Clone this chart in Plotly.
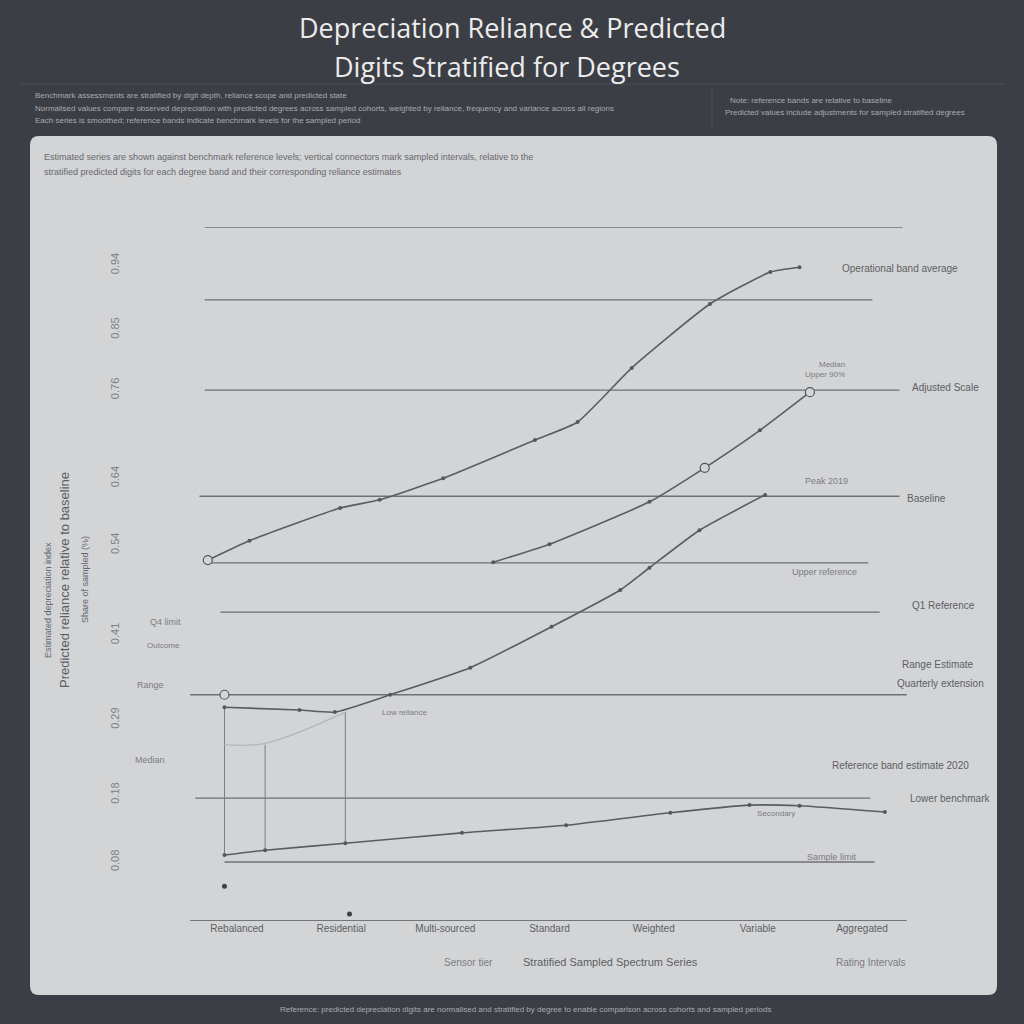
import plotly.graph_objects as go

# ---------------- data ----------------
x_tick_vals = [0, 1, 2, 3, 4, 5, 6]
x_tick_text = ["Rebalanced", "Residential", "Multi-sourced", "Standard", "Weighted", "Variable", "Aggregated"]

y_tick_vals = [94.5, 85.2, 76.5, 63.8, 54.2, 41.2, 29.0, 18.2, 8.5]
y_tick_text = ["0.94", "0.85", "0.76", "0.64", "0.54", "0.41", "0.29", "0.18", "0.08"]

# reference (benchmark) levels and their horizontal extents
ref_levels = [100.0, 89.5, 76.5, 61.2, 51.6, 44.5, 32.6, 17.7, 8.5]
ref_start = [-0.31, -0.31, -0.31, -0.36, -0.31, -0.16, -0.45, -0.40, -0.12]
ref_end = [6.39, 6.10, 6.36, 6.36, 6.06, 6.17, 6.43, 6.08, 6.12]

# series
a_x = [-0.28, 0.12, 0.99, 1.37, 1.98, 2.86, 3.27, 3.79, 4.54, 5.12, 5.40]
a_y = [52.0, 54.8, 59.5, 60.7, 63.8, 69.3, 71.9, 79.7, 88.9, 93.5, 94.2]

b_x = [2.46, 3.00, 3.96, 4.49, 5.02, 5.50]
b_y = [51.7, 54.3, 60.4, 65.3, 70.7, 76.2]

c_x = [-0.12, 0.60, 0.94, 1.47, 2.24, 3.02, 3.68, 3.96, 4.44, 5.07]
c_y = [30.8, 30.4, 30.1, 32.6, 36.5, 42.4, 47.7, 50.9, 56.3, 61.4]

d_x = [-0.12, 0.27, 1.04, 2.16, 3.16, 4.16, 4.92, 5.40, 6.22]
d_y = [9.5, 10.2, 11.2, 12.7, 13.8, 15.6, 16.7, 16.6, 15.7]

# faint secondary trace
e_x = [-0.12, 0.27, 1.04]
e_y = [25.4, 25.6, 30.1]

# vertical connectors
v_x = [-0.12, 0.27, 1.04]
v_top = [30.8, 25.4, 30.1]
v_bottom = [9.5, 10.2, 11.2]

# isolated observations
iso_x = [-0.12, 1.08]
iso_y = [5.0, 1.0]

# ---------------- figure ----------------
W = H = 1024
BG = "#3c3e45"
PANEL = "#d3d4d6"
LINE = "#5a5c63"
REF = "#6e7077"


def px(x):
    return x / W


def py(y):
    return 1 - y / H


fig = go.Figure()

for lv, s, e in zip(ref_levels, ref_start, ref_end):
    fig.add_trace(go.Scatter(x=[s, e], y=[lv, lv], mode="lines",
                             line=dict(color=REF, width=1.4), hoverinfo="skip"))

for xv, t, b in zip(v_x, v_top, v_bottom):
    fig.add_trace(go.Scatter(x=[xv, xv], y=[b, t], mode="lines",
                             line=dict(color="#7a7c83", width=1), hoverinfo="skip"))

fig.add_trace(go.Scatter(x=e_x, y=e_y, mode="lines",
                         line=dict(color="#b4b6bb", width=1.2, shape="spline"), hoverinfo="skip"))

for sx, sy in [(a_x, a_y), (b_x, b_y), (c_x, c_y), (d_x, d_y)]:
    fig.add_trace(go.Scatter(x=sx, y=sy, mode="lines+markers",
                             line=dict(color=LINE, width=1.6, shape="spline", smoothing=0.5),
                             marker=dict(size=4, color="#55575e"), hoverinfo="skip"))

fig.add_trace(go.Scatter(x=iso_x, y=iso_y, mode="markers",
                         marker=dict(size=5, color="#3f4147"), cliponaxis=False, hoverinfo="skip"))

# open circle markers at key points
fig.add_trace(go.Scatter(x=[a_x[0], c_x[0], b_x[-1], b_x[3]], y=[a_y[0], 32.6, b_y[-1], b_y[3]],
                         mode="markers", cliponaxis=False,
                         marker=dict(size=9, color=PANEL, line=dict(color="#55575e", width=1.2)),
                         hoverinfo="skip"))

fig.update_layout(
    width=W, height=H,
    margin=dict(l=0, r=0, t=0, b=0),
    paper_bgcolor=BG, plot_bgcolor="rgba(0,0,0,0)",
    showlegend=False,
    font=dict(family="Liberation Sans, Arial, sans-serif", color="#555"),
    xaxis=dict(domain=[px(190), px(907)], range=[-0.451, 6.432],
               tickvals=x_tick_vals, ticktext=x_tick_text,
               showgrid=False, zeroline=False, showline=False,
               ticks="", tickfont=dict(size=10, color="#5c5e64")),
    yaxis=dict(domain=[py(921), py(227)], range=[0, 100],
               tickvals=y_tick_vals, ticktext=y_tick_text, tickangle=-90,
               showgrid=False, zeroline=False, showline=False, ticks="",
               ticklabelstandoff=68,
               tickfont=dict(size=11, color="#7e8086")),
)

# panel with rounded corners
x0, x1, y0, y1, r = px(30), px(997), py(995), py(136), 9 / W
ry = 9 / H
path = (f"M {x0 + r},{y0} L {x1 - r},{y0} Q {x1},{y0} {x1},{y0 + ry} "
        f"L {x1},{y1 - ry} Q {x1},{y1} {x1 - r},{y1} L {x0 + r},{y1} "
        f"Q {x0},{y1} {x0},{y1 - ry} L {x0},{y0 + ry} Q {x0},{y0} {x0 + r},{y0} Z")
fig.add_shape(type="path", path=path, xref="paper", yref="paper",
              fillcolor=PANEL, line=dict(width=0), layer="below")

# header separators
fig.add_shape(type="line", xref="paper", yref="paper", x0=px(20), x1=px(1005), y0=py(84), y1=py(84),
              line=dict(color="#4b4d55", width=1), layer="below")
fig.add_shape(type="line", xref="paper", yref="paper", x0=px(712), x1=px(712), y0=py(88), y1=py(128),
              line=dict(color="#4b4d55", width=1), layer="below")

# x-axis baseline
fig.add_shape(type="line", xref="x", yref="y", x0=-0.45, x1=6.43, y0=0, y1=0,
              line=dict(color="#54565d", width=1.6))


def ann(text, x, y, size=10, color="#5c5e64", xanchor="left", angle=0, family=None):
    f = dict(size=size, color=color)
    if family:
        f["family"] = family
    fig.add_annotation(text=text, x=px(x), y=py(y), xref="paper", yref="paper",
                       showarrow=False, xanchor=xanchor, yanchor="middle",
                       textangle=angle, font=f)


# titles
ann("Depreciation Reliance & Predicted", 512, 27, size=27, color="#ececec", xanchor="center",
    family="Open Sans, Liberation Sans, sans-serif")
ann("Digits Stratified for Degrees", 507, 66, size=27, color="#ececec", xanchor="center",
    family="Open Sans, Liberation Sans, sans-serif")

# header notes
ann("Benchmark assessments are stratified by digit depth, reliance scope and predicted state", 33, 95, size=8, color="#a9abb0")
ann("Normalised values compare observed depreciation with predicted degrees across sampled cohorts, weighted by reliance, frequency and variance across all regions", 33, 108, size=8, color="#a9abb0")
ann("Each series is smoothed; reference bands indicate benchmark levels for the sampled period", 33, 120, size=8, color="#a9abb0")
ann("Note: reference bands are relative to baseline", 728, 100, size=8, color="#a9abb0")
ann("Predicted values include adjustments for sampled stratified degrees", 723, 112, size=8, color="#a9abb0")

# panel notes
ann("Estimated series are shown against benchmark reference levels; vertical connectors mark sampled intervals, relative to the", 42, 157, size=9, color="#66686e")
ann("stratified predicted digits for each degree band and their corresponding reliance estimates", 42, 172, size=9, color="#66686e")

# y-axis titles (rotated)
ann("Estimated depreciation index", 48, 600, size=9, color="#66686e", xanchor="center", angle=-90)
ann("Predicted reliance relative to baseline", 64, 580, size=13, color="#5c5e64", xanchor="center", angle=-90)
ann("Share of sampled (%)", 85, 580, size=9, color="#66686e", xanchor="center", angle=-90)

# left-side small labels
ann("Q4 limit", 165, 622, size=9, color="#7a7c83", xanchor="center")
ann("Outcome", 163, 645, size=8, color="#7a7c83", xanchor="center")
ann("Range", 150, 685, size=9, color="#7a7c83", xanchor="center")
ann("Median", 150, 760, size=9, color="#7a7c83", xanchor="center")

# right-side series labels
ann("Operational band average", 840, 268, size=10)
ann("Median", 817, 364, size=8, color="#7a7c83")
ann("Upper 90%", 803, 374, size=8, color="#7a7c83")
ann("Adjusted Scale", 910, 387, size=10)
ann("Peak 2019", 803, 481, size=9, color="#7a7c83")
ann("Baseline", 905, 498, size=10)
ann("Upper reference", 790, 572, size=9, color="#7a7c83")
ann("Q1 Reference", 910, 605, size=10)
ann("Range Estimate", 900, 664, size=10)
ann("Quarterly extension", 895, 683, size=10)
ann("Low reliance", 380, 712, size=8, color="#7a7c83")
ann("Reference band estimate 2020", 830, 765, size=10)
ann("Lower benchmark", 908, 798, size=10)
ann("Secondary", 755, 813, size=8, color="#7a7c83")
ann("Sample limit", 805, 857, size=9, color="#7a7c83")

# x-axis titles
ann("Sensor tier", 468, 962, size=10, color="#7a7c83", xanchor="center")
ann("Stratified Sampled Spectrum Series", 610, 962, size=11, color="#5c5e64", xanchor="center")
ann("Rating Intervals", 870, 962, size=10, color="#7a7c83", xanchor="center")

# footer
ann("Reference: predicted depreciation digits are normalised and stratified by degree to enable comparison across cohorts and sampled periods", 525, 1009, size=8, color="#a9abb0", xanchor="center")

fig.write_html("out.html")
